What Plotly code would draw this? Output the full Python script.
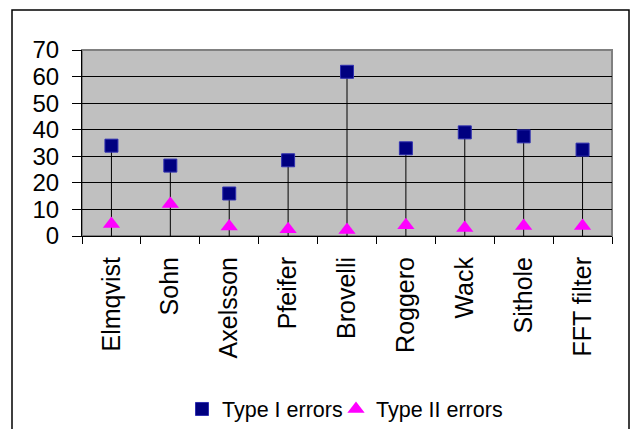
import plotly.graph_objects as go

# Filter methods and their error rates (%)
methods = ["Elmqvist", "Sohn", "Axelsson", "Pfeifer", "Brovelli",
           "Roggero", "Wack", "Sithole", "FFT filter"]
type1_errors = [34.0, 26.5, 16.0, 28.5, 61.8, 33.0, 39.0, 37.5, 32.5]
type2_errors = [4.5, 12.0, 3.6, 2.5, 2.3, 4.0, 3.0, 3.8, 3.8]

FONT = "Liberation Sans, Arial, sans-serif"

fig = go.Figure()

# Type I errors: squares with a drop line to the category axis
fig.add_trace(go.Scatter(
    x=methods, y=type1_errors, mode="markers", name="Type I errors",
    marker=dict(symbol="square", size=13, color="#000080",
                line=dict(color="#3030b0", width=1)),
    error_y=dict(type="data", symmetric=False,
                 array=[0] * len(type1_errors), arrayminus=type1_errors,
                 color="black", thickness=1, width=0),
    cliponaxis=False, legend="legend",
))

# Type II errors: magenta triangles
fig.add_trace(go.Scatter(
    x=methods, y=type2_errors, mode="markers", name="Type II errors",
    marker=dict(symbol="triangle-up", size=15, color="#FF00FF",
                line=dict(width=0)),
    cliponaxis=False, legend="legend2",
))

W, H = 632, 429
L, R, T, B = 82, 20, 50, 193
pw, ph = W - L - R, H - T - B

def px_x(v):
    return (v - L) / pw

def px_y(v):
    return (H - B - v) / ph

legend_style = dict(orientation="h", xanchor="left",
                    yref="container", y=1 - 409 / H, yanchor="middle",
                    font=dict(family=FONT, size=21.5, color="black"),
                    bgcolor="rgba(0,0,0,0)", itemwidth=30)

fig.update_layout(
    width=W, height=H,
    margin=dict(l=L, r=R, t=T, b=B, pad=0, autoexpand=False),
    paper_bgcolor="white",
    plot_bgcolor="#C0C0C0",
    font=dict(family=FONT, size=24, color="black"),
    showlegend=True,
    legend=dict(x=px_x(182), **legend_style),
    legend2=dict(x=px_x(336), **legend_style),
    shapes=[
        # outer chart frame
        dict(type="rect", xref="paper", yref="paper",
             x0=px_x(12), x1=px_x(629), y0=px_y(10), y1=px_y(460),
             line=dict(color="black", width=1.5), layer="below"),
        # plot area frame
        dict(type="rect", xref="paper", yref="paper",
             x0=0, x1=1, y0=0, y1=1,
             line=dict(color="#808080", width=2), layer="below"),
    ],
)

fig.update_xaxes(
    type="category", range=[-0.5, len(methods) - 0.5],
    showgrid=False, automargin=False,
    showline=True, linecolor="black", linewidth=1,
    ticks="outside", tickson="boundaries", ticklen=7, tickcolor="black",
    tickangle=-90, tickfont=dict(family=FONT, size=25, color="black"),
    ticklabelstandoff=10,
)

fig.update_yaxes(
    range=[0, 70], dtick=10, tick0=0, automargin=False,
    showgrid=True, gridcolor="black", gridwidth=1,
    zeroline=False,
    showline=True, linecolor="black", linewidth=1,
    ticks="outside", ticklen=9, tickcolor="black",
    tickfont=dict(family=FONT, size=24, color="black"),
    ticklabelstandoff=8,
)

fig.write_html("out.html")
